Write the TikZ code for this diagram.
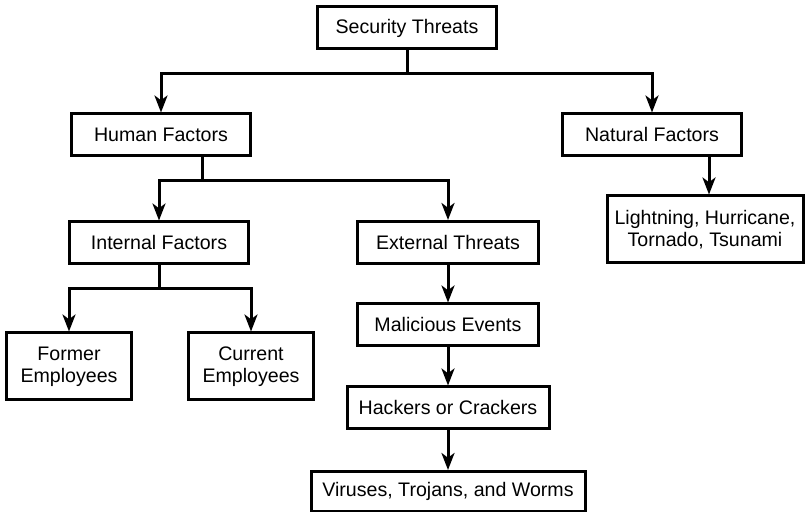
\documentclass[tikz,border=0pt]{standalone}
\usepackage{fontspec}
\setmainfont{Liberation Sans}
\usetikzlibrary{arrows.meta}

\begin{document}
\begin{tikzpicture}[x=0.5pt, y=-0.5pt,
    box/.style={draw, line width=1.5pt, align=center, inner sep=0pt,
        minimum height=21pt, font=\fontsize{9.8}{11}\selectfont},
    link/.style={line width=1.5pt},
    arr/.style={line width=1.5pt, -{Stealth[length=8.5pt, width=6.5pt, inset=2.4pt]}}]

    \useasboundingbox (0,0) rectangle (805,512);

    % 箱
    \node[box, minimum width=89.5pt] (st) at (407,28) {Security Threats};
    \node[box, minimum width=89.5pt] (hf) at (161,135) {Human Factors};
    \node[box, minimum width=89.5pt] (nf) at (652,135) {Natural Factors};
    \node[box, minimum width=89.5pt] (if) at (159,243) {Internal Factors};
    \node[box, minimum width=90.5pt] (et) at (448,242.5) {External Threats};
    \node[box, minimum width=98pt, minimum height=33.5pt] (lt) at (705,229.5)
        {Lightning, Hurricane,\\ Tornado, Tsunami};
    \node[box, minimum width=62.5pt, minimum height=33.5pt] (fe) at (69,366.5)
        {Former\\ Employees};
    \node[box, minimum width=62.5pt, minimum height=33.5pt] (ce) at (251,366.5)
        {Current\\ Employees};
    \node[box, minimum width=90.5pt] (me) at (448,325) {Malicious Events};
    \node[box, minimum width=101pt] (hc) at (448,408) {Hackers or Crackers};
    \node[box, minimum width=137pt, minimum height=20pt] (vt) at (448,491.5)
        {Viruses, Trojans, and Worms};

    % 分岐点
    \coordinate (s1) at (407,74);
    \coordinate (h0) at (202,156);
    \coordinate (h1) at (202,181);
    \coordinate (i1) at (159,289);
    \coordinate (n0) at (709,156);

    % Security Threats から
    \draw[link] (st) -- (s1);
    \draw[arr] (s1) -| (hf);
    \draw[arr] (s1) -| (nf);

    % Human Factors から
    \draw[link] (h0) -- (h1);
    \draw[arr] (h1) -| (if);
    \draw[arr] (h1) -| (et);

    % Internal Factors から
    \draw[link] (if) -- (i1);
    \draw[arr] (i1) -| (fe);
    \draw[arr] (i1) -| (ce);

    % Natural Factors から
    \draw[arr] (n0) -- (n0 |- lt.north);

    % External Threats の列
    \draw[arr] (et) -- (me);
    \draw[arr] (me) -- (hc);
    \draw[arr] (hc) -- (vt);

\end{tikzpicture}
\end{document}
